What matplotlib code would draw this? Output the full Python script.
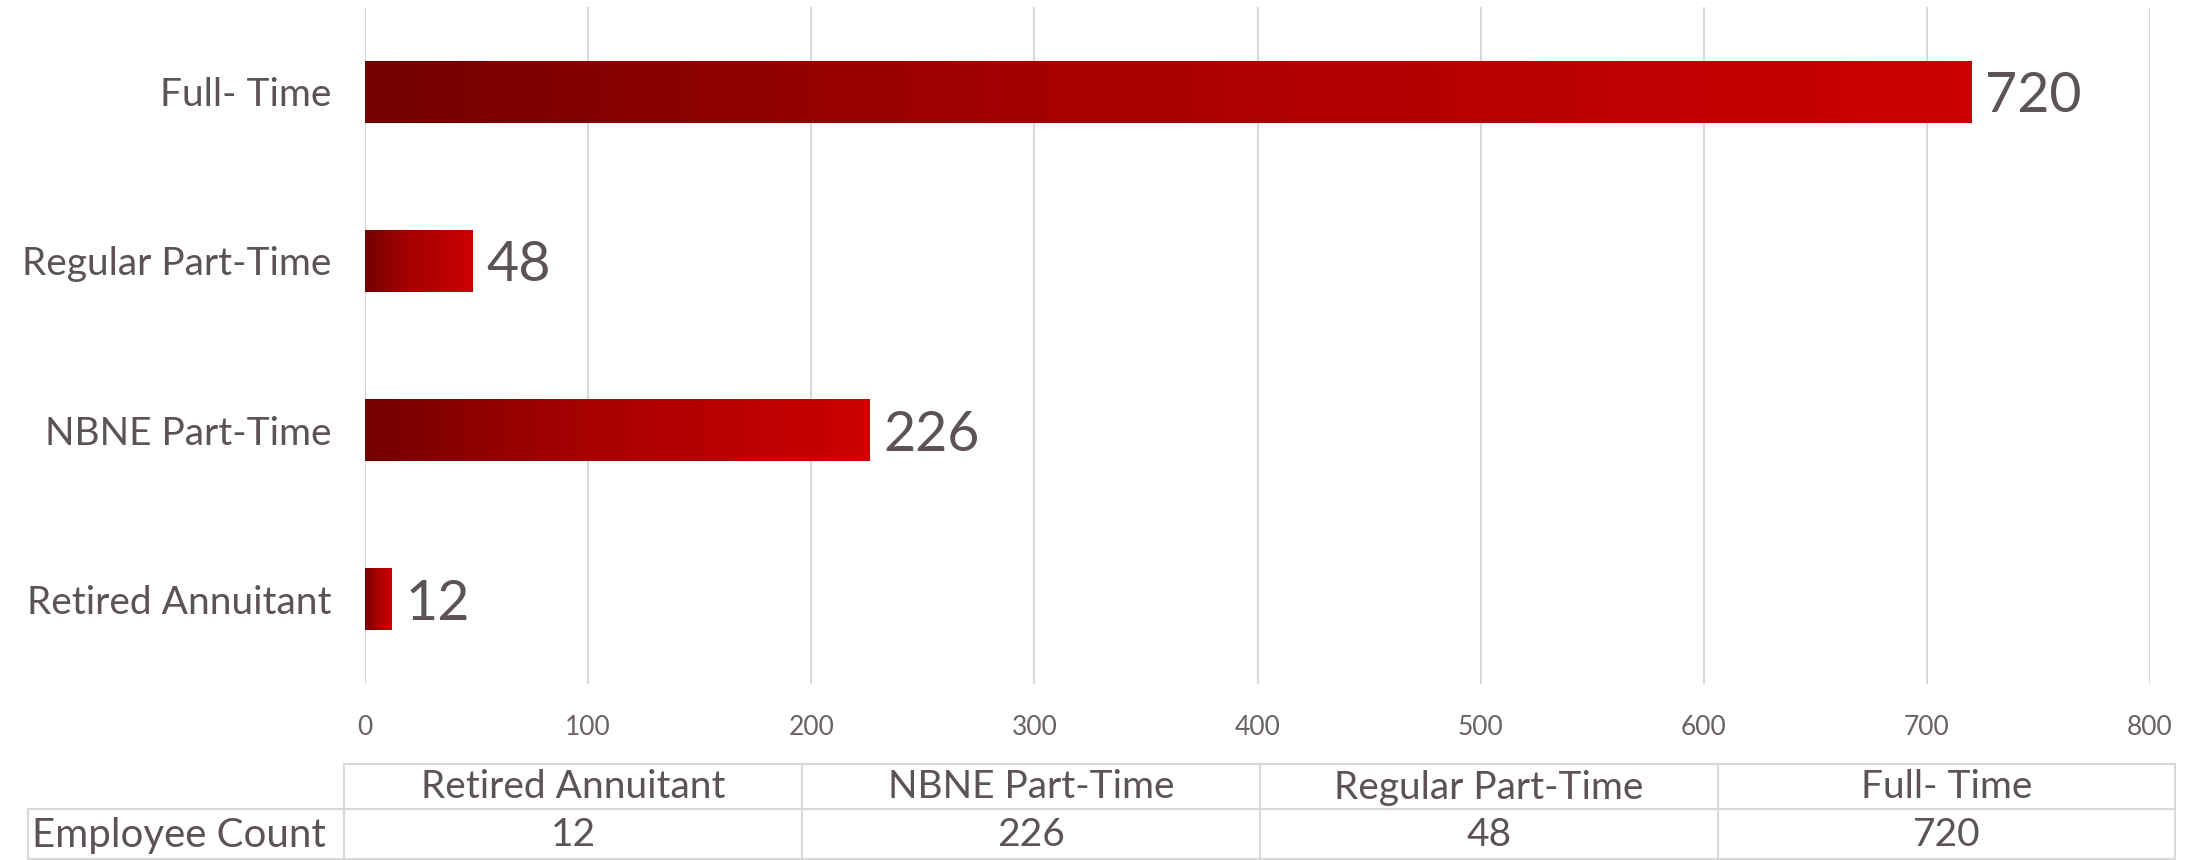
import numpy as np
import matplotlib
matplotlib.use('Agg')
import matplotlib.pyplot as plt
from matplotlib.colors import LinearSegmentedColormap

categories = ['Retired Annuitant', 'NBNE Part-Time', 'Regular Part-Time', 'Full- Time']
counts = [12, 226, 48, 720]
row_label = 'Employee Count'
xticks = [0, 100, 200, 300, 400, 500, 600, 700, 800]

plt.rcParams['font.family'] = ['Lato', 'DejaVu Sans']
text_col = '#5b5356'
tick_col = '#6a6164'
grid_col = '#d9d9d9'

W, H = 2203, 860
fig = plt.figure(figsize=(W / 100, H / 100), dpi=100)
ax = fig.add_axes([365 / W, 1 - 684 / H, (2150 - 365) / W, (684 - 7) / H])

cmap = LinearSegmentedColormap.from_list(
    'redgrad', [(0, '#740000'), (0.41, '#a50000'), (1, '#cc0000')])
grad = np.linspace(0, 1, 256).reshape(1, -1)
bar_h = 0.365
for i, v in enumerate(counts):
    ax.imshow(grad, cmap=cmap, aspect='auto', extent=[0, v, i - bar_h / 2, i + bar_h / 2],
              zorder=3, interpolation='bilinear')
    ax.annotate(str(v), (v, i), xytext=(10, 0), textcoords='offset points',
                va='center_baseline', ha='left', fontsize=40, color=text_col)

ax.set_xlim(0, 800)
ax.set_ylim(-0.5, len(categories) - 0.5)
ax.set_xticks(xticks)
ax.set_xticklabels([str(t) for t in xticks], fontsize=19, color=tick_col)
ax.set_yticks(range(len(categories)))
ax.set_yticklabels(categories, fontsize=28, color=text_col)
ax.tick_params(axis='x', length=0, pad=22)
ax.tick_params(axis='y', length=0, pad=24)
ax.grid(axis='x', color=grid_col, linewidth=1.5, zorder=0)
ax.set_axisbelow(True)
for s in ax.spines.values():
    s.set_visible(False)

# data table under the chart
tax = fig.add_axes([0, 0, 1, 1], zorder=-1)
tax.set_xlim(0, W)
tax.set_ylim(H, 0)
tax.axis('off')
col_edges = [344, 802, 1260, 1718, 2175]
top, mid, bot = 764, 809, 859
lw = 1.5
tax.plot([col_edges[0], col_edges[-1]], [top, top], color=grid_col, lw=lw)
tax.plot([28, col_edges[-1]], [mid, mid], color=grid_col, lw=lw)
tax.plot([28, col_edges[-1]], [bot, bot], color=grid_col, lw=lw)
tax.plot([28, 28], [mid, bot], color=grid_col, lw=lw)
for xe in col_edges:
    tax.plot([xe, xe], [top, bot], color=grid_col, lw=lw)
for j, (c, v) in enumerate(zip(categories, counts)):
    xc = (col_edges[j] + col_edges[j + 1]) / 2
    tax.text(xc, (top + mid) / 2 + 1, c, ha='center', va='center', fontsize=28,
             color=text_col)
    tax.text(xc, (mid + bot) / 2 + 1, str(v), ha='center', va='center', fontsize=28,
             color=text_col)
tax.text(32, (mid + bot) / 2 + 1, row_label, ha='left', va='center', fontsize=29,
         color=text_col)

fig.savefig('out.png', dpi=100)
